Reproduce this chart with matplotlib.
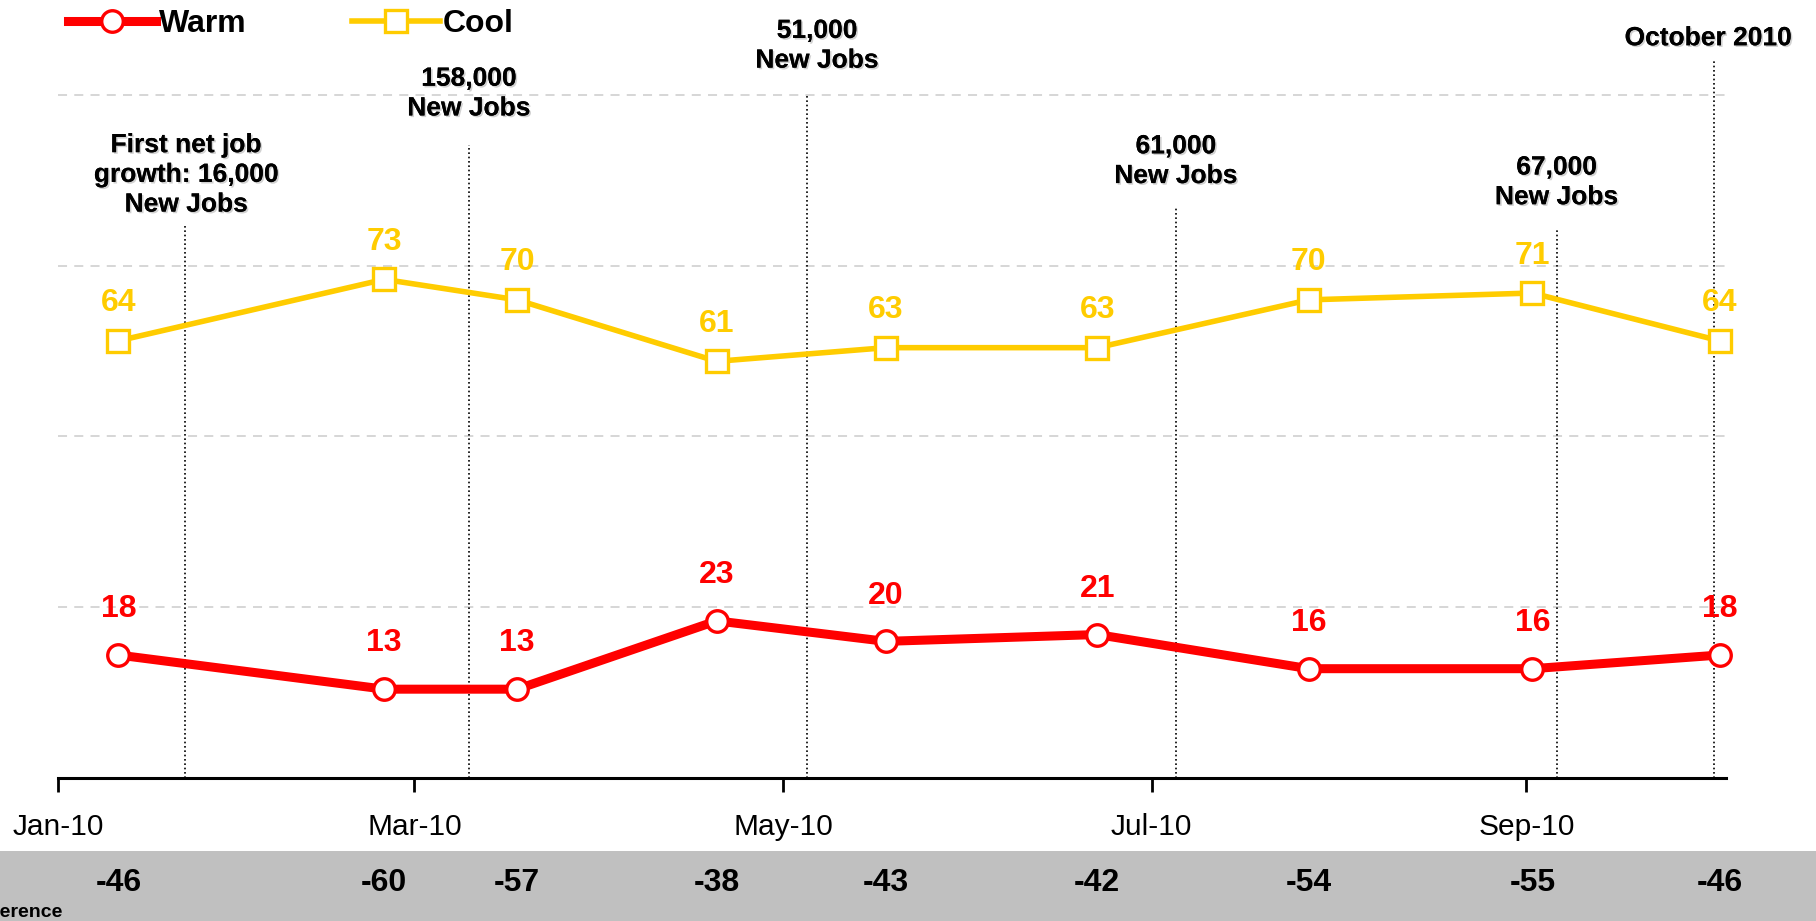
import numpy as np
import matplotlib
matplotlib.use('Agg')
import matplotlib.pyplot as plt
import matplotlib.dates as mdates
import matplotlib.patheffects as pe
from matplotlib.patches import Rectangle
from matplotlib.lines import Line2D
import matplotlib.transforms as mtransforms
import pandas as pd

plt.rcParams['font.family'] = ['Liberation Sans', 'DejaVu Sans']

# survey dates and values
dates = pd.to_datetime(['2010-01-11', '2010-02-24', '2010-03-18', '2010-04-20', '2010-05-18',
                        '2010-06-22', '2010-07-27', '2010-09-02', '2010-10-03'])
warm = [18, 13, 13, 23, 20, 21, 16, 16, 18]
cool = [64, 73, 70, 61, 63, 63, 70, 71, 64]
diff = [-46, -60, -57, -38, -43, -42, -54, -55, -46]

# job report events
event_dates = pd.to_datetime(['2010-01-22', '2010-03-10', '2010-05-05', '2010-07-05',
                              '2010-09-06', '2010-10-02'])
event_text = ['First net job\ngrowth: 16,000\nNew Jobs', '158,000\nNew Jobs', '51,000\nNew Jobs',
              '61,000\nNew Jobs', '67,000\nNew Jobs', 'October 2010']
event_top = [81, 92.7, 100, 83.4, 80.5, 105]
event_label_y = [88.3, 100.2, 107.2, 90.3, 87.2, 108.3]
event_label_dx = [1, 0, 7, 0, 0, -4]

RED = '#FF0000'
GOLD = '#FFCC00'

fig = plt.figure(figsize=(18.16, 9.21), dpi=100)
ax = fig.add_axes([0.0319, 0.1553, 0.9184, 0.7416])

# gray band at bottom
band = Rectangle((0, 0), 1, 0.076, transform=fig.transFigure,
                 facecolor='#C0C0C0', edgecolor='none', zorder=-5)
fig.patches.append(band)

ax.set_xlim(pd.Timestamp('2010-01-01'), pd.Timestamp('2010-10-04'))
ax.set_ylim(0, 100)

for g in [25, 50, 75, 100]:
    ax.axhline(g, color='#D3D3D3', lw=1.3, ls=(0, (5, 4)), zorder=1, clip_on=False)

for d, top in zip(event_dates, event_top):
    ax.plot([d, d], [0, top], color='black', lw=1.2, ls=(0, (1, 1.6)), zorder=2, clip_on=False)

shadow = [pe.withSimplePatchShadow(offset=(1.2, -1.2), shadow_rgbFace='gray', alpha=0.35), pe.Normal()]
for d, t, y, dx in zip(event_dates, event_text, event_label_y, event_label_dx):
    ax.annotate(t, (d, y), xytext=(dx, 0), textcoords='offset points', ha='center', va='center',
                fontsize=19, fontweight='bold', linespacing=1.3, annotation_clip=False,
                path_effects=shadow)

ax.plot(dates, cool, color=GOLD, lw=4, marker='s', ms=15.5, mfc='white', mec=GOLD, mew=2.4,
        zorder=4, clip_on=False)
ax.plot(dates, warm, color=RED, lw=6.5, marker='o', ms=15.5, mfc='white', mec=RED, mew=2.4,
        zorder=4, clip_on=False)

for d, v in zip(dates, cool):
    ax.annotate(str(v), (d, v), xytext=(0, 27), textcoords='offset points', ha='center',
                va='center', color=GOLD, fontsize=23, fontweight='bold')
for d, v in zip(dates, warm):
    ax.annotate(str(v), (d, v), xytext=(0, 33), textcoords='offset points', ha='center',
                va='center', color=RED, fontsize=23, fontweight='bold')

# difference row
trans = mtransforms.blended_transform_factory(ax.transData, fig.transFigure)
for d, v in zip(dates, diff):
    ax.text(d, 0.041, str(v), transform=trans, ha='center', va='center',
            fontsize=23, fontweight='bold', clip_on=False, zorder=5)
fig.text(0.035, 0.0, 'Difference', ha='right', va='bottom', fontsize=14, fontweight='bold')

# axes styling
for s in ['top', 'right', 'left']:
    ax.spines[s].set_visible(False)
ax.spines['bottom'].set_linewidth(2.2)
ax.set_yticks([])
ax.xaxis.set_major_locator(mdates.MonthLocator(bymonth=[1, 3, 5, 7, 9]))
ax.xaxis.set_major_formatter(mdates.DateFormatter('%b-%y'))
ax.tick_params(axis='x', direction='out', length=10, width=2, pad=15, labelsize=21.5)

handles = [Line2D([], [], color=RED, lw=6.5, marker='o', ms=15.5, mfc='white', mec=RED, mew=2.4),
           Line2D([], [], color=GOLD, lw=4, marker='s', ms=15.5, mfc='white', mec=GOLD, mew=2.4)]
leg = fig.legend(handles, ['Warm', 'Cool'], loc='center left', bbox_to_anchor=(0.0375, 0.974),
                 ncol=2, frameon=False, fontsize=23, handlelength=2.75, handletextpad=0.1,
                 columnspacing=3.3, borderpad=0, borderaxespad=0)
for t in leg.get_texts():
    t.set_fontweight('bold')

fig.savefig('out.png', dpi=100)
